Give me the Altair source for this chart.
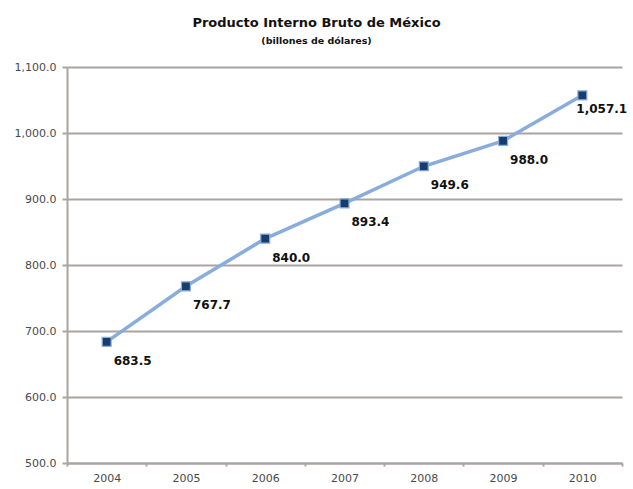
import altair as alt
import pandas as pd

years = ["2004", "2005", "2006", "2007", "2008", "2009", "2010"]
gdp = [683.5, 767.7, 840.0, 893.4, 949.6, 988.0, 1057.1]
labels = ["683.5", "767.7", "840.0", "893.4", "949.6", "988.0", "1,057.1"]

df = pd.DataFrame({"year": years, "gdp": gdp, "label": labels})

grid_color = "#a9a49f"

x = alt.X("year:O", title=None,
          scale=alt.Scale(paddingInner=0, paddingOuter=0),
          axis=alt.Axis(labelAngle=0, labelFont="DejaVu Sans", labelFontSize=11,
                        labelColor="#4a4a4a", labelPadding=6, tickSize=3,
                        tickColor=grid_color, tickWidth=2, domainColor=grid_color,
                        domainWidth=2, tickBand="extent", grid=False))
y = alt.Y("gdp:Q", title=None,
          scale=alt.Scale(domain=[500, 1100], nice=False, zero=False),
          axis=alt.Axis(values=[500, 600, 700, 800, 900, 1000, 1100],
                        format=",.1f", labelFont="DejaVu Sans", labelFontSize=11,
                        labelColor="#4a4a4a", labelPadding=6, tickSize=5,
                        tickColor=grid_color, tickWidth=2, domainColor=grid_color,
                        domainWidth=2, gridColor=grid_color, gridWidth=2,
                        gridOpacity=1))

base = alt.Chart(df)

line = base.mark_line(color="#88acdc", strokeWidth=3.5).encode(x=x, y=y)
pts = base.mark_point(shape="square", filled=True, size=80, color="#173c6e",
                      stroke="#88acdc", strokeWidth=1.2, opacity=1).encode(x=x, y=y)
txt = base.transform_filter(alt.datum.year != "2010").mark_text(
    align="left", baseline="middle", dx=7, dy=19, font="DejaVu Sans",
    fontSize=12, fontWeight="bold", color="#111111").encode(x=x, y=y, text="label:N")
txt_last = base.transform_filter(alt.datum.year == "2010").mark_text(
    align="left", baseline="middle", dx=-6, dy=14, font="DejaVu Sans",
    fontSize=12, fontWeight="bold", color="#111111").encode(x=x, y=y, text="label:N")

chart = alt.layer(line, pts, txt, txt_last).properties(
    width=555, height=396,
    padding={"left": 67, "top": 67, "right": 11, "bottom": 26},
    autosize=alt.AutoSizeParams(type="none"),
    background="white",
    title=alt.TitleParams(
        text="Producto Interno Bruto de México",
        subtitle="(billones de dólares)",
        font="DejaVu Sans", fontSize=13, fontWeight="bold", color="#111111",
        subtitleFont="DejaVu Sans", subtitleFontSize=9.5, subtitleFontWeight="bold",
        subtitleColor="#111111", subtitlePadding=6,
        anchor="middle", dx=-28, offset=16),
).configure_view(stroke=None)

chart.save("out.html", embed_options={"renderer": "svg", "actions": False})
